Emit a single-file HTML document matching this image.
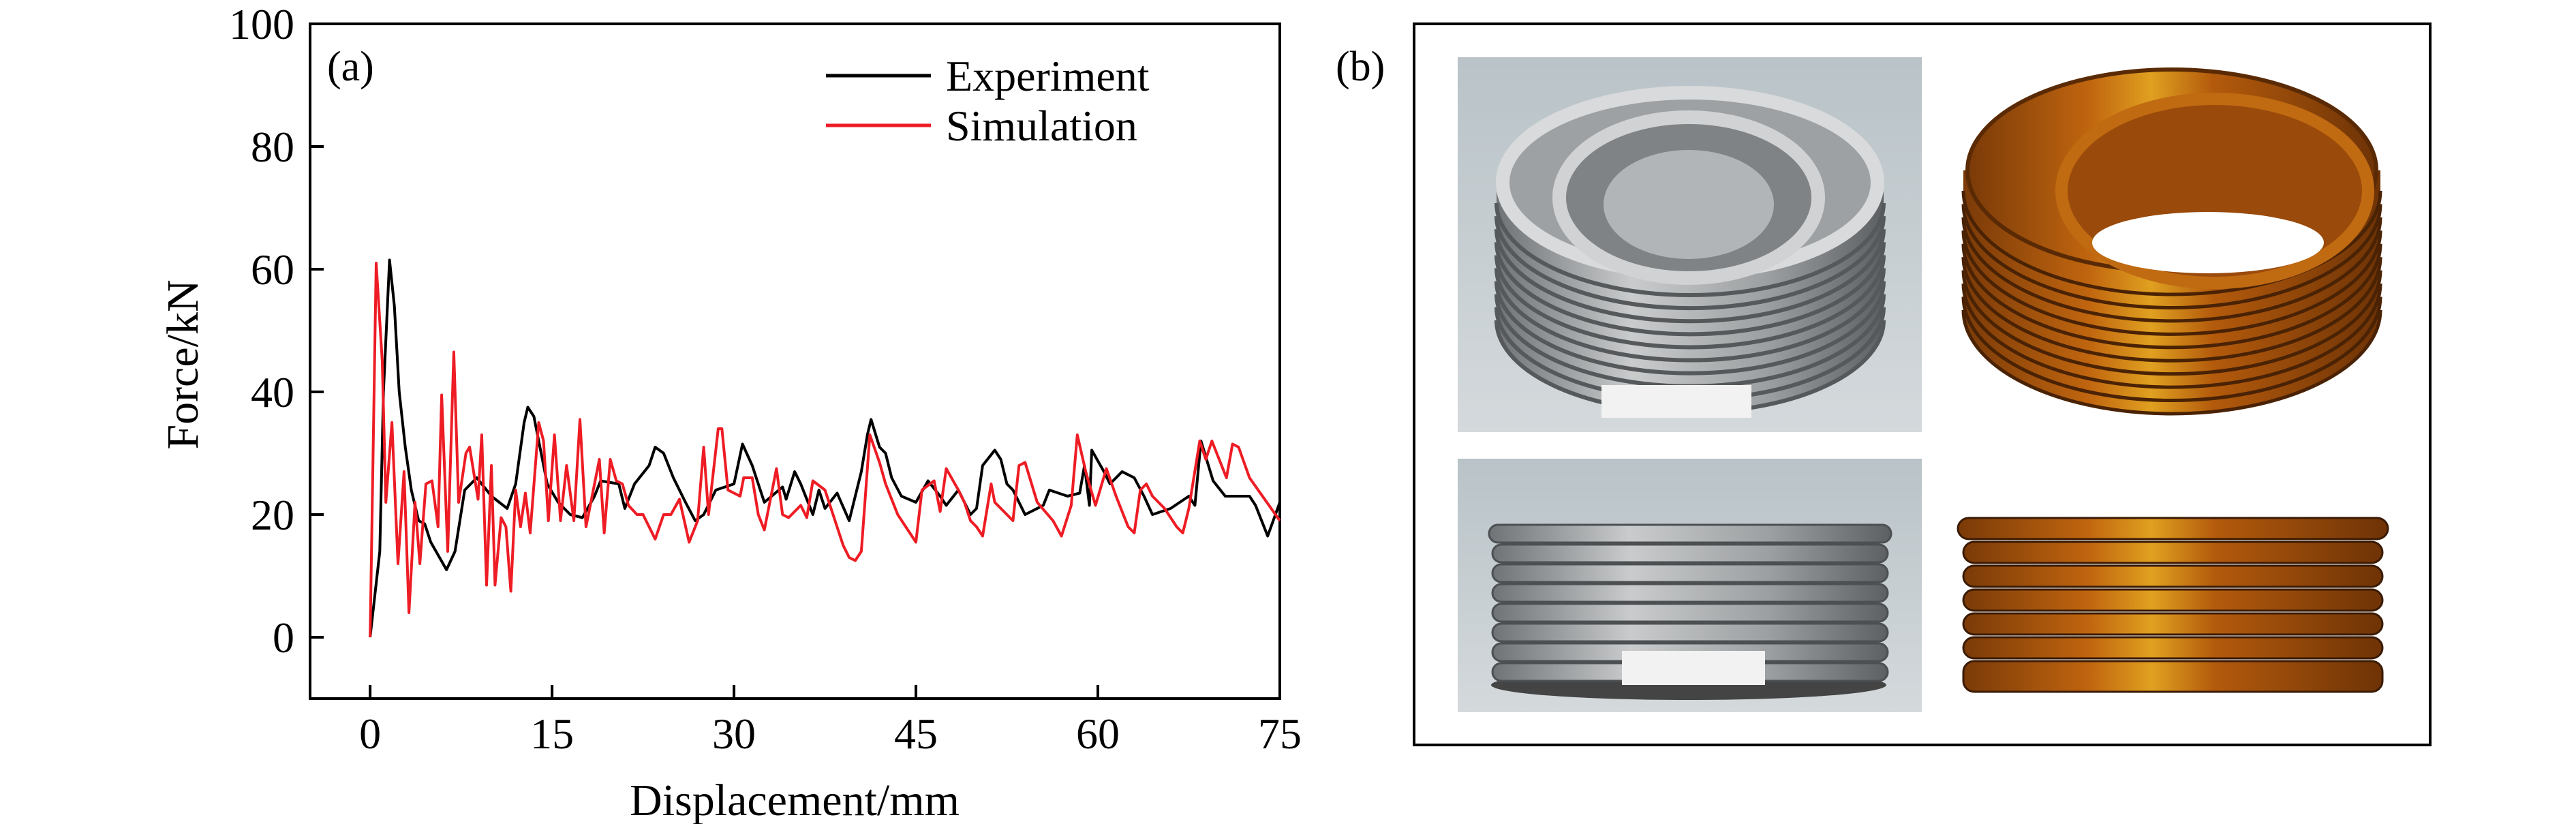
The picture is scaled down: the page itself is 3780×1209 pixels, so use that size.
<!DOCTYPE html>
<html><head><meta charset="utf-8"><style>
html,body{margin:0;padding:0;background:#fff;}
svg{display:block;font-family:"Liberation Serif",serif;}
</style></head><body>
<svg id="fig" width="3780" height="1209" viewBox="0 0 3780 1209" xmlns="http://www.w3.org/2000/svg">
<defs>
<linearGradient id="bg" x1="0" y1="0" x2="0" y2="1"><stop offset="0" stop-color="#b9c3c8"/><stop offset="1" stop-color="#d4d9dc"/></linearGradient>
<linearGradient id="metal" x1="0" y1="0" x2="1" y2="0"><stop offset="0" stop-color="#6f7376"/><stop offset="0.35" stop-color="#c9cbcc"/><stop offset="0.7" stop-color="#9c9fa1"/><stop offset="1" stop-color="#5d6063"/></linearGradient>
<linearGradient id="cu" x1="0" y1="0" x2="1" y2="0"><stop offset="0" stop-color="#7a3a08"/><stop offset="0.3" stop-color="#c0650f"/><stop offset="0.45" stop-color="#e0a020"/><stop offset="0.6" stop-color="#b35a0c"/><stop offset="1" stop-color="#6e3306"/></linearGradient>
</defs>
<g id="plotA"></g>
<g id="panelB"></g>
</svg>
<script>
const NS="http://www.w3.org/2000/svg";
const expX=[0,0.8,1.1,1.6,2.0,2.4,2.9,3.4,4.0,4.5,5,6.3,7,7.8,8.8,10,11.3,12,12.7,13,13.5,14,14.6,15.5,16.5,17.5,18.5,19,20.5,21,21.8,23,23.5,24.2,25,26,26.8,27.5,28.5,30,30.7,31.5,32.5,34,34.3,35,35.5,36.5,37,37.5,38.5,39.5,40.5,41,41.3,42,42.5,43,43.8,45,46,47,47.5,48.5,49.5,50,50.5,51.5,52,52.5,53,54,55.5,56,57.5,58.5,58.9,59.3,59.5,60.5,61,62,63,63.8,64.5,66,67.5,68,68.5,69.5,70.5,72.5,73,74,75];
const expY=[0,14,40,61.5,54,40,31,24,19,18.5,15.5,11,14,24,26,23,21,25,35,37.5,36,31,25,22,20,19.5,23,25.5,25,21,25,28,31,30,26,22,19,20,24,25,31.5,28,22,24.5,22.5,27,25,20,24,21,23.5,19,27,33,35.5,31,30,26,23,22,25.5,23,21.5,24,20,21,28,30.5,29,25,24,20,21.5,24,23,23.5,28,21.5,30.5,27,25,27,26,23,20,21,23,21.5,32,25.5,23,23,21.5,16.5,22];
const simX=[0,0.5,1.0,1.3,1.8,2.3,2.8,3.2,3.7,4.1,4.6,5.1,5.6,5.9,6.4,6.9,7.3,7.9,8.2,8.9,9.2,9.6,10.0,10.3,10.8,11.2,11.6,12.0,12.4,12.8,13.2,13.9,14.3,14.7,15.2,15.7,16.2,16.8,17.3,17.8,18.4,18.9,19.3,19.8,20.3,20.8,21.3,22,22.5,23.5,24.2,24.8,25.5,26.3,27,27.5,27.9,28.7,29,29.5,30.5,30.8,31.5,32,32.5,33.5,34,34.5,35.5,36,36.5,37.5,39,39.5,40,40.5,41.2,42,42.5,43.5,44.5,45,45.5,46.5,47,47.5,48.5,49,49.5,50,50.5,51.2,51.5,52.5,53,53.5,54,55,56.3,57,57.8,58.3,59,59.8,60.7,61.5,62.5,63,63.5,64,64.5,65.5,66.5,67,67.5,68.4,68.9,69.4,70.6,71.1,71.6,72.5,75];
const simY=[0,61,45,22,35,12,27,4,22,12,25,25.5,18,39.5,14,46.5,22,30,31,22.5,33,8.5,28,8.5,19.5,18,7.5,24,18,23.5,17,35,32,19,33,19,28,19,35.5,18,24,29,17,29,25.5,25,21.5,20,20,16,20,20,22.5,15.5,19,31,20,34,34,24,23,26,26,20,17.5,27.5,20,19.5,21.5,19.5,25.5,24,15,13,12.5,14,33,28.5,25,20,17,15.5,24,25.5,20.5,27.5,24,22,19,18,16.5,25,22,20,19,28,28.5,22,19,16.5,21.5,33,27,21.5,27.5,23,18,17,24,25,23,21,18,17,21,32,29,32,26,31.5,31,26,19];
const xTicks=[0,15,30,45,60,75];
const yTicks=[0,20,40,60,80,100];
const X0=455,X1=1878,Y0=35,Y1=1025;
const xMin=-4.95,xMax=75,yMin=-10,yMax=100;
const sx=v=>X0+(v-xMin)/(xMax-xMin)*(X1-X0);
const sy=v=>Y1-(v-yMin)/(yMax-yMin)*(Y1-Y0);
function mk(tag,attrs,parent,text){const e=document.createElementNS(NS,tag);for(const k in attrs)e.setAttribute(k,attrs[k]);if(text!==undefined)e.textContent=text;parent.appendChild(e);return e;}
const A=document.getElementById('plotA');
let fr=mk('rect',{x:X0,y:Y0,width:X1-X0,height:Y1-Y0,fill:'none',stroke:'#000','stroke-width':4},A);


xTicks.forEach(t=>{
 let l=mk('line',{x1:sx(t),x2:sx(t),y1:Y1,y2:Y1-20,stroke:'#000','stroke-width':4},A);
 
 
 let tx=mk('text',{x:sx(t),y:1098,'font-size':64,'text-anchor':'middle'},A,String(t));
 
 
});
yTicks.forEach(t=>{
 let l=mk('line',{x1:X0,x2:X0+20,y1:sy(t),y2:sy(t),stroke:'#000','stroke-width':4},A);
 
 
 let tx=mk('text',{x:432,y:sy(t)+22,'font-size':64,'text-anchor':'end'},A,String(t));
 
 
});
let xt=mk('text',{x:1166,y:1196,'font-size':66,'text-anchor':'middle'},A,'Displacement/mm');


let yt=mk('text',{x:0,y:0,'font-size':66,'text-anchor':'middle',transform:'translate(290,535) rotate(-90)'},A,'Force/kN');


let la=mk('text',{x:480,y:118,'font-size':62},A,'(a)');


function series(xs,ys,color,name){
 const d=xs.map((x,i)=>(i?'L':'M')+sx(x).toFixed(1)+','+sy(ys[i]).toFixed(1)).join(' ');
 const p=mk('path',{d:d,fill:'none',stroke:color,'stroke-width':4,'stroke-linejoin':'round'},A);
 
 
}
series(expX,expY,'#000','experiment-line');
series(simX,simY,'#ee1c24','simulation-line');
[['Experiment','#000',111],['Simulation','#ee1c24',184]].forEach(([n,c,y])=>{
 const g=mk('g',{},A);
 
 
 mk('line',{x1:1212,x2:1366,y1:y,y2:y,stroke:c,'stroke-width':5},g);
 mk('text',{x:1388,y:y+22,'font-size':64},g,n);
});
// Panel B
const B=document.getElementById('panelB');
let fb=mk('rect',{x:2075,y:35,width:1491,height:1058,fill:'none',stroke:'#000','stroke-width':4},B);


let lb=mk('text',{x:1960,y:118,'font-size':62},B,'(b)');


function cyl(g,cx,top,bot,rx,ry,fill,ringCol,n,sw){
 mk('path',{d:`M${cx-rx},${top} L${cx-rx},${bot} A${rx},${ry} 0 0 0 ${cx+rx},${bot} L${cx+rx},${top} Z`,fill:fill},g);
 for(let i=0;i<n;i++){const y=top+30+i*(bot-top-30)/(n-1);
  mk('path',{d:`M${cx-rx},${y} A${rx},${ry} 0 0 0 ${cx+rx},${y}`,fill:'none',stroke:ringCol,'stroke-width':sw},g);}
}
// photo 1
let p1=mk('g',{},B);


mk('rect',{x:2139,y:84,width:681,height:550,fill:'url(#bg)'},p1);
cyl(p1,2480,268,470,284,135,'url(#metal)','#55595c',10,6);
mk('ellipse',{cx:2480,cy:268,rx:275,ry:132,fill:'#9da1a3',stroke:'#d8dadb','stroke-width':20},p1);
mk('ellipse',{cx:2478,cy:290,rx:190,ry:118,fill:'#7f8386',stroke:'#d0d2d3','stroke-width':20},p1);
mk('ellipse',{cx:2478,cy:300,rx:125,ry:80,fill:'#b2b5b7'},p1);
mk('rect',{x:2350,y:565,width:220,height:48,fill:'#f2f2f2'},p1);
// photo 2
let p2=mk('g',{},B);


mk('rect',{x:2139,y:673,width:681,height:372,fill:'url(#bg)'},p2);
mk('ellipse',{cx:2478,cy:1005,rx:290,ry:22,fill:'#444'},p2);
for(let i=0;i<8;i++)mk('rect',{x:2185+(i==0?0:5),y:770+i*29,width:590-(i==0?0:10),height:26,rx:13,fill:'url(#metal)',stroke:'#4d5053','stroke-width':3},p2);
mk('rect',{x:2380,y:955,width:210,height:50,fill:'#f2f2f2'},p2);
// render 1
let r1=mk('g',{},B);


cyl(r1,3187,250,455,306,152,'url(#cu)','#4a2204',10,5);
mk('ellipse',{cx:3187,cy:250,rx:300,ry:148,fill:'url(#cu)',stroke:'#5a2a05','stroke-width':6},r1);
mk('ellipse',{cx:3250,cy:280,rx:225,ry:135,fill:'#9a4a0a',stroke:'#c06a12','stroke-width':18},r1);
mk('ellipse',{cx:3240,cy:356,rx:170,ry:45,fill:'#fff'},r1);
// render 2
let r2=mk('g',{},B);


for(let i=0;i<7;i++)mk('rect',{x:2873+(i>0?8:0),y:760+i*35,width:631-(i>0?16:0),height:i==6?45:31,rx:16,fill:'url(#cu)',stroke:'#3a1a02','stroke-width':3},r2);
</script>
</body></html>
